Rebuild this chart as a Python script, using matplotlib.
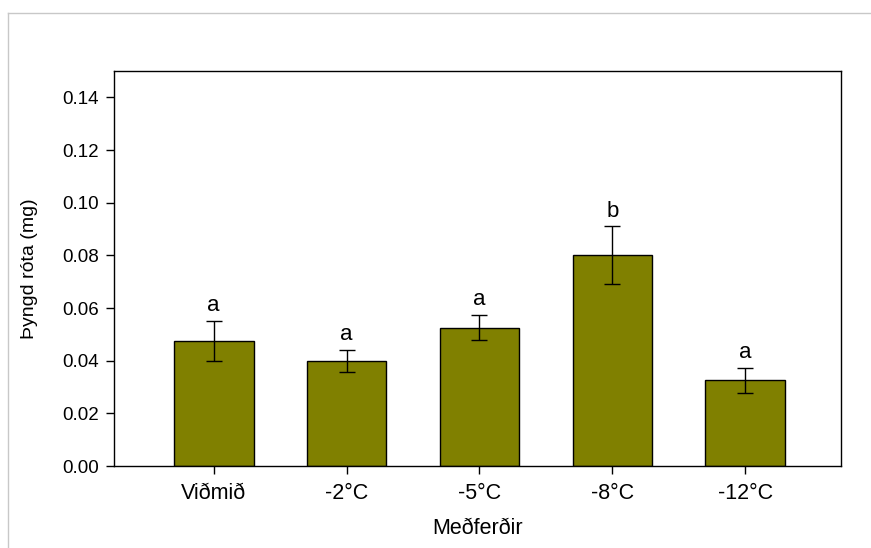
import matplotlib.pyplot as plt
from matplotlib.lines import Line2D

plt.rcParams['font.family'] = ['Liberation Sans', 'DejaVu Sans']

treatments = ['Viðmið', '-2°C', '-5°C', '-8°C', '-12°C']
root_mass = [0.0475, 0.0400, 0.0525, 0.0800, 0.0325]
root_err = [0.0075, 0.0042, 0.0048, 0.0110, 0.0048]
groups = ['a', 'a', 'a', 'b', 'a']

fig = plt.figure(figsize=(8.71, 5.48), dpi=100)
ax = fig.add_axes([0.1309, 0.1496, 0.8346, 0.7208])

x = range(len(treatments))
ax.bar(x, root_mass, width=0.6, color='#808000', edgecolor='black', linewidth=1.0, zorder=2)
ax.errorbar(x, root_mass, yerr=root_err, fmt='none', ecolor='black',
            elinewidth=1.0, capsize=5.5, capthick=1.0, zorder=3)

# significance letters above each error bar
for xi, m, e, g in zip(x, root_mass, root_err, groups):
    ax.annotate(g, (xi, m + e), xytext=(0, 7), textcoords='offset points',
                ha='center', va='baseline', fontsize=16)

ax.set_xlim(-0.75, 4.72)
ax.set_ylim(0, 0.15)
ax.set_yticks([0.00, 0.02, 0.04, 0.06, 0.08, 0.10, 0.12, 0.14])
ax.set_yticklabels([f'{v:.2f}' for v in ax.get_yticks()])
ax.set_xticks(list(x))
ax.set_xticklabels(treatments)
ax.tick_params(axis='y', direction='out', length=6, width=1, labelsize=13.5, pad=5)
ax.tick_params(axis='x', direction='out', length=6, width=1, labelsize=15.5, pad=6)
for s in ax.spines.values():
    s.set_linewidth(1.0)

ax.set_xlabel('Meðferðir', fontsize=15.5, labelpad=10)
ax.set_ylabel('Þyngd róta (mg)', fontsize=14, labelpad=17)

# thin frame around the figure area
fig.add_artist(Line2D([8 / 871, 1], [1 - 13 / 548, 1 - 13 / 548], color='#c8c8c8', lw=1.0))
fig.add_artist(Line2D([8 / 871, 8 / 871], [0, 1 - 13 / 548], color='#c8c8c8', lw=1.0))

fig.savefig('out.png', dpi=100)
